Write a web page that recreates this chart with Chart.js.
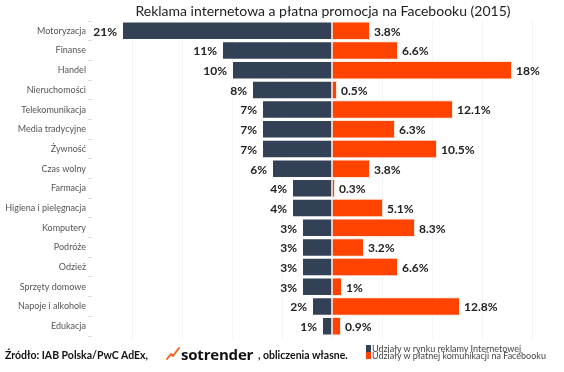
<!DOCTYPE html>
<html>
<head>
<meta charset="utf-8">
<script src="https://cdn.jsdelivr.net/npm/chart.js@4/dist/chart.umd.min.js"></script>
<style>
  body { margin: 0; background: #fff; font-family: Lato, 'Noto Sans', sans-serif; }
  #wrap { position: relative; width: 564px; height: 372px; overflow: hidden; }
  #title { position: absolute; left: 0; width: 646px; top: 2px; text-align: center; font-size: 14px; color: #222; white-space: nowrap; }
  #source { position: absolute; left: 5px; top: 349px; font-size: 10.5px; font-weight: bold; color: #111; white-space: nowrap; }
  #logo { position: absolute; left: 166px; top: 345px; height: 16px; }
  #brand { position: absolute; left: 181px; top: 344px; font-size: 15px; font-weight: bold; color: #111; letter-spacing: -0.2px; font-family: 'Open Sans', sans-serif; }
  #calc { position: absolute; left: 258px; top: 349px; font-size: 10.5px; font-weight: bold; color: #111; white-space: nowrap; }
  #legend { position: absolute; left: 366px; top: 345px; font-size: 9px; color: #444; line-height: 7px; white-space: nowrap; }
  #legend span.sw { display: inline-block; width: 5px; height: 7px; vertical-align: top; margin-right: 1px; }
</style>
</head>
<body>
<div id="wrap">
  <canvas id="chart" width="564" height="372"></canvas>
  <div id="title">Reklama internetowa a płatna promocja na Facebooku (2015)</div>
  <div id="source">Źródło: IAB Polska/PwC AdEx,</div>
  <svg id="logo" width="14" height="16" viewBox="0 0 14 16">
    <polyline points="1,14 5,9 7,11 13,3" fill="none" stroke="#f26522" stroke-width="2" stroke-linecap="round" stroke-linejoin="round"/>
  </svg>
  <div id="brand">sotrender</div>
  <div id="calc">, obliczenia własne.</div>
  <div id="legend">
    <div><span class="sw" style="background:#334157"></span>Udziały w rynku reklamy Internetowej</div>
    <div><span class="sw" style="background:#fe4200"></span>Udziały w płatnej komunikacji na Facebooku</div>
  </div>
</div>
<script>
const categories = ['Motoryzacja', 'Finanse', 'Handel', 'Nieruchomości', 'Telekomunikacja', 'Media tradycyjne', 'Żywność', 'Czas wolny', 'Farmacja', 'Higiena i pielęgnacja', 'Komputery', 'Podróże', 'Odzież', 'Sprzęty domowe', 'Napoje i alkohole', 'Edukacja'];
const internetShare = [21, 11, 10, 8, 7, 7, 7, 6, 4, 4, 3, 3, 3, 3, 2, 1];
const facebookShare = [3.8, 6.6, 18, 0.5, 12.1, 6.3, 10.5, 3.8, 0.3, 5.1, 8.3, 3.2, 6.6, 1, 12.8, 0.9];
const gridValues = [-20, -15, -10, -5, 0, 5, 10, 15, 20];

const DARK = '#334157', ORANGE = '#fe4200';

// value labels at the outer end of each bar
const valueLabels = {
  id: 'valueLabels',
  afterDatasetsDraw(chart) {
    const ctx = chart.ctx;
    ctx.save();
    ctx.font = 'bold 12px Lato';
    ctx.fillStyle = '#222';
    ctx.textBaseline = 'middle';
    chart.getDatasetMeta(0).data.forEach((bar, i) => {
      ctx.textAlign = 'right';
      ctx.fillText(internetShare[i] + '%', bar.x - 5, bar.y + 1);
    });
    chart.getDatasetMeta(1).data.forEach((bar, i) => {
      ctx.textAlign = 'left';
      ctx.fillText(facebookShare[i] + '%', bar.x + 4, bar.y + 1);
    });
    ctx.restore();
  }
};

new Chart(document.getElementById('chart'), {
  type: 'bar',
  data: {
    labels: categories,
    datasets: [
      {
        label: 'Udziały w rynku reklamy Internetowej',
        data: internetShare.map(v => -v),
        backgroundColor: DARK,
        borderColor: 'rgba(255,255,255,0.75)',
        borderWidth: 1,
        categoryPercentage: 0.94,
        barPercentage: 1
      },
      {
        label: 'Udziały w płatnej komunikacji na Facebooku',
        data: facebookShare,
        backgroundColor: ORANGE,
        borderColor: 'rgba(255,220,200,0.8)',
        borderWidth: 1,
        categoryPercentage: 0.94,
        barPercentage: 1
      }
    ]
  },
  options: {
    indexAxis: 'y',
    responsive: false,
    animation: false,
    layout: { padding: { top: 21, bottom: 33, right: 19, left: 0 } },
    plugins: { legend: { display: false }, tooltip: { enabled: false } },
    scales: {
      x: {
        stacked: true,
        min: -24,
        max: 21.3,
        afterBuildTicks: scale => { scale.ticks = gridValues.map(v => ({ value: v })); },
        ticks: { display: false },
        grid: { color: '#f4f4f4', tickLength: 3 },
        border: { display: false }
      },
      y: {
        stacked: true,
        afterFit: scale => { scale.width = 92; },
        ticks: { font: { family: 'Lato', size: 9 }, color: '#555', padding: 2 },
        grid: { drawOnChartArea: false, tickLength: 4, color: '#ddd' },
        border: { display: false }
      }
    }
  },
  plugins: [valueLabels]
});
</script>
</body>
</html>
